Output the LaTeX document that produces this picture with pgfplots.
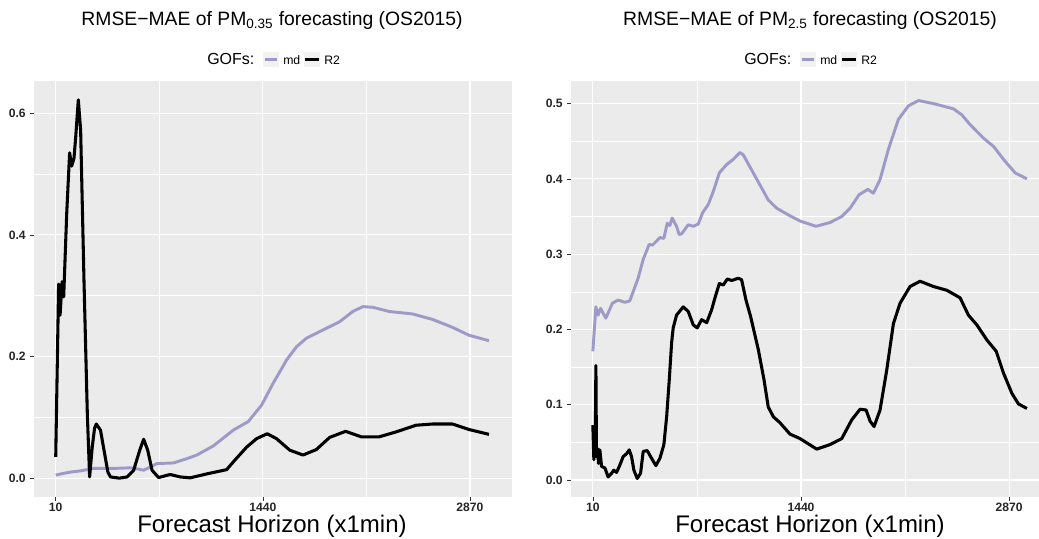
\documentclass[border=0pt]{standalone}
\usepackage{pgfplots}
\pgfplotsset{compat=1.18}
\usepackage{fontspec}
\setmainfont{Liberation Sans}

\definecolor{ggbg}{HTML}{EBEBEB}
\definecolor{ggkey}{HTML}{F2F2F2}
\definecolor{mdcol}{HTML}{9E9AC8}

\pgfplotsset{
  ggpanel/.style={
    scale only axis,
    height=312pt,
    axis background/.style={fill=ggbg},
    axis line style={draw=none},
    grid=both,
    major grid style={white, line width=0.85pt},
    minor grid style={white, line width=0.42pt},
    tick align=outside,
    xtick pos=lower,
    ytick pos=left,
    major tick length=2.7pt,
    minor tick length=0pt,
    tick style={black!80, line width=0.5pt},
    xtick={10,1440,2870},
    minor xtick={725,2155},
    xmin=-140,
    /pgf/number format/assume math mode=true,
    ticklabel style={font=\fontsize{9.1pt}{10pt}\selectfont\bfseries, text=black!85},
    yticklabel style={/pgf/number format/fixed, /pgf/number format/fixed zerofill, /pgf/number format/precision=1},
    xticklabel style={/pgf/number format/1000 sep={}, inner sep=1.5pt},
    clip=true,
  },
  md/.style={mdcol, line width=2.2pt, line join=round},
  r2/.style={black, line width=2.3pt, line join=round},
}

\begin{document}
\begin{tikzpicture}
\path[use as bounding box] (0,0) rectangle (779.25pt,-404.25pt);

% left panel
\begin{axis}[ggpanel, at={(25.5pt,-372.75pt)}, anchor=south west,
  width=358.5pt, xmax=3160, ymin=-0.031, ymax=0.653,
  ytick={0,0.2,0.4,0.6}, minor ytick={0.1,0.3,0.5}]
\addplot[md] coordinates {(10,0.005)(67,0.008)(113,0.010)(182,0.012)(273,0.016)(411,0.016)(526,0.017)(580,0.015)(617,0.013)(660,0.018)(709,0.024)(823,0.025)(915,0.032)(984,0.038)(1098,0.053)(1236,0.079)(1339,0.093)(1431,0.120)(1511,0.156)(1603,0.194)(1672,0.216)(1740,0.230)(1832,0.241)(1969,0.257)(2061,0.274)(2130,0.282)(2198,0.281)(2313,0.274)(2473,0.270)(2611,0.261)(2749,0.248)(2863,0.235)(3001,0.226)};
\addplot[r2] coordinates {(10,0.035)(30,0.319)(40,0.268)(54,0.323)(65,0.298)(86,0.436)(106,0.535)(120,0.513)(136,0.526)(148,0.561)(166,0.622)(182,0.572)(205,0.326)(228,0.107)(244,0.002)(262,0.051)(278,0.082)(290,0.089)(319,0.079)(347,0.041)(370,0.010)(388,0.002)(450,0.0)(503,0.002)(548,0.013)(590,0.046)(617,0.064)(645,0.046)(675,0.013)(720,0.001)(800,0.006)(869,0.002)(938,0.0005)(1053,0.007)(1190,0.014)(1248,0.030)(1328,0.051)(1397,0.065)(1470,0.073)(1534,0.065)(1626,0.046)(1717,0.038)(1809,0.047)(1901,0.067)(2011,0.077)(2119,0.068)(2244,0.068)(2359,0.076)(2497,0.087)(2611,0.089)(2749,0.089)(2863,0.080)(3001,0.072)};
\end{axis}

% right panel
\begin{axis}[ggpanel, at={(428.25pt,-372.75pt)}, anchor=south west,
  width=351pt, xmax=3075, ymin=-0.0226, ymax=0.530,
  ytick={0,0.1,0.2,0.3,0.4,0.5}, minor ytick={0.05,0.15,0.25,0.35,0.45}]
\addplot[md] coordinates {(10,0.171)(31,0.230)(46,0.219)(63,0.228)(99,0.215)(145,0.235)(184,0.239)(230,0.236)(264,0.238)(321,0.268)(356,0.293)(397,0.313)(420,0.312)(471,0.322)(498,0.321)(521,0.341)(539,0.338)(555,0.348)(585,0.337)(603,0.326)(620,0.327)(665,0.339)(700,0.337)(734,0.340)(764,0.355)(803,0.366)(837,0.383)(879,0.408)(929,0.419)(975,0.426)(1021,0.435)(1043,0.432)(1112,0.408)(1215,0.372)(1273,0.361)(1364,0.351)(1433,0.344)(1543,0.337)(1639,0.342)(1720,0.350)(1777,0.361)(1839,0.379)(1899,0.386)(1937,0.381)(1983,0.399)(2040,0.439)(2109,0.479)(2178,0.497)(2247,0.504)(2350,0.500)(2488,0.493)(2545,0.485)(2602,0.472)(2694,0.454)(2763,0.443)(2831,0.426)(2911,0.408)(2992,0.400)};
\addplot[r2] coordinates {(10,0.073)(17,0.027)(22,0.071)(26,0.031)(31,0.152)(35,0.031)(42,0.042)(49,0.022)(58,0.040)(70,0.018)(93,0.016)(115,0.004)(139,0.009)(154,0.013)(173,0.010)(196,0.020)(218,0.031)(242,0.035)(260,0.040)(276,0.031)(292,0.013)(315,0.002)(338,0.009)(356,0.038)(384,0.039)(407,0.031)(443,0.019)(471,0.029)(498,0.047)(517,0.084)(535,0.133)(551,0.182)(562,0.202)(585,0.219)(631,0.230)(665,0.224)(700,0.206)(727,0.202)(757,0.213)(792,0.209)(826,0.226)(849,0.242)(879,0.261)(906,0.259)(934,0.267)(964,0.265)(1009,0.268)(1032,0.266)(1062,0.239)(1094,0.217)(1147,0.173)(1186,0.133)(1215,0.097)(1250,0.084)(1296,0.076)(1364,0.061)(1433,0.055)(1548,0.041)(1639,0.047)(1720,0.055)(1789,0.080)(1846,0.094)(1887,0.093)(1915,0.078)(1942,0.071)(1983,0.093)(2029,0.146)(2075,0.208)(2121,0.235)(2189,0.257)(2258,0.264)(2350,0.257)(2442,0.252)(2533,0.242)(2590,0.219)(2648,0.206)(2717,0.186)(2781,0.171)(2831,0.142)(2889,0.115)(2934,0.101)(2992,0.095)};
\end{axis}

% titles
\node[anchor=base, font=\fontsize{14.5pt}{16pt}\selectfont] at (204pt,-19.5pt) {RMSE−MAE of PM\textsubscript{0.35} forecasting (OS2015)};
\node[anchor=base, font=\fontsize{14.5pt}{16pt}\selectfont] at (607.5pt,-19.5pt) {RMSE−MAE of PM\textsubscript{2.5} forecasting (OS2015)};

% legends
\foreach \dx in {0pt,402.75pt} {
  \begin{scope}[xshift=\dx]
    \node[anchor=base west, inner sep=0pt, font=\fontsize{12pt}{13pt}\selectfont] at (155.25pt,-48pt) {GOFs:};
    \fill[ggkey] (197.25pt,-38.8pt) rectangle (209.25pt,-50.5pt);
    \draw[mdcol, line width=2.2pt] (198.4pt,-44.6pt) -- (208.1pt,-44.6pt);
    \node[anchor=base west, inner sep=0pt, font=\fontsize{9.2pt}{10pt}\selectfont] at (212.25pt,-48pt) {md};
    \fill[ggkey] (228pt,-38.8pt) rectangle (240pt,-50.5pt);
    \draw[black, line width=2.3pt] (229.1pt,-44.6pt) -- (238.9pt,-44.6pt);
    \node[anchor=base west, inner sep=0pt, font=\fontsize{9.2pt}{10pt}\selectfont] at (243pt,-48pt) {R2};
  \end{scope}
}

% x labels
\node[anchor=base, font=\fontsize{18pt}{20pt}\selectfont] at (204pt,-399pt) {Forecast Horizon (x1min)};
\node[anchor=base, font=\fontsize{18pt}{20pt}\selectfont] at (607.5pt,-399pt) {Forecast Horizon (x1min)};
\end{tikzpicture}
\end{document}
